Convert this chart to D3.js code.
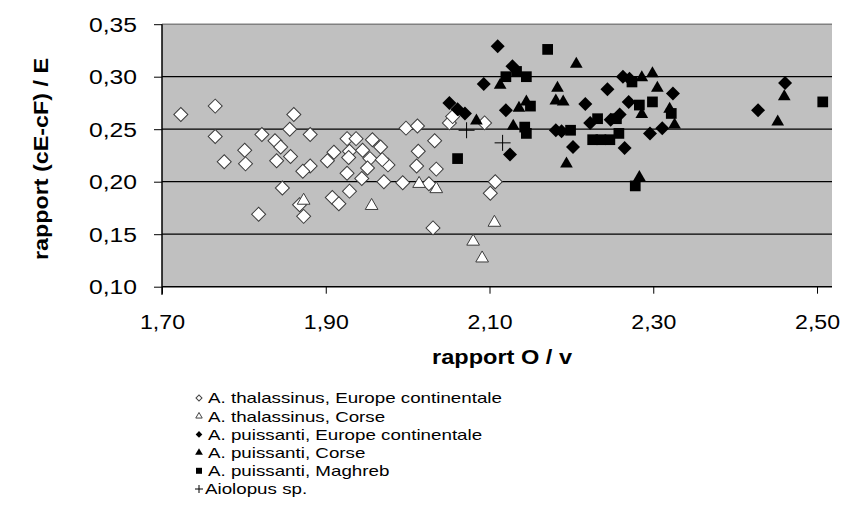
<!DOCTYPE html>
<html><head><meta charset="utf-8">
<script src="https://cdn.jsdelivr.net/npm/d3@7/dist/d3.min.js"></script>
<style>body{margin:0;background:#fff}svg{display:block;font-family:"Liberation Sans",Arial,sans-serif}</style>
</head><body><svg id="c" width="844" height="509"></svg>
<script>
// ---- data (O/v ratio, (cE-cF)/E ratio) ----
const thalEuropeX = [1.723,1.765,1.765,1.776,1.801,1.802,1.822,1.818,1.838,1.845,1.840,1.857,1.847,1.856,1.861,1.881,1.881,1.872,1.868,1.873,1.902,1.910,1.926,1.937,1.929,1.928,1.926,1.945,1.957,1.967,1.954,1.976,1.951,1.944,1.971,1.929,1.908,1.916,1.994,1.998,2.012,2.013,2.011,2.033,2.035,2.026,2.031,2.051,2.055,2.094,2.101,2.107,1.969];
const thalEuropeY = [0.264,0.272,0.243,0.219,0.230,0.217,0.245,0.169,0.239,0.233,0.220,0.224,0.194,0.250,0.264,0.245,0.215,0.210,0.178,0.167,0.220,0.228,0.241,0.241,0.229,0.223,0.208,0.230,0.240,0.233,0.222,0.216,0.213,0.203,0.200,0.191,0.185,0.179,0.199,0.251,0.253,0.229,0.215,0.239,0.212,0.198,0.156,0.256,0.262,0.256,0.189,0.200,0.221];
const thalCorseX = [1.873,1.956,2.014,2.035,2.080,2.091,2.106];
const thalCorseY = [0.183,0.178,0.199,0.194,0.144,0.128,0.162];
const puisEuropeX = [2.051,2.061,2.070,2.093,2.110,2.128,2.120,2.125,2.181,2.188,2.202,2.217,2.223,2.244,2.248,2.259,2.263,2.271,2.270,2.265,2.296,2.311,2.324,2.428,2.461];
const puisEuropeY = [0.275,0.269,0.265,0.293,0.329,0.310,0.268,0.226,0.249,0.248,0.233,0.274,0.256,0.288,0.259,0.264,0.300,0.298,0.276,0.232,0.246,0.251,0.284,0.268,0.294];
const puisCorseX = [2.084,2.113,2.129,2.136,2.145,2.183,2.181,2.190,2.194,2.206,2.286,2.299,2.305,2.286,2.320,2.326,2.283,2.452,2.460];
const puisCorseY = [0.259,0.293,0.254,0.271,0.277,0.290,0.278,0.277,0.218,0.313,0.300,0.304,0.290,0.265,0.270,0.255,0.205,0.258,0.282];
const puisMaghrebX = [2.061,2.120,2.133,2.145,2.150,2.143,2.145,2.171,2.199,2.232,2.255,2.226,2.236,2.247,2.258,2.274,2.283,2.299,2.322,2.278,2.507];
const puisMaghrebY = [0.222,0.300,0.305,0.300,0.272,0.252,0.246,0.326,0.249,0.260,0.260,0.240,0.240,0.240,0.246,0.295,0.273,0.276,0.265,0.196,0.276];
const aiolopusX = [2.072,2.116];
const aiolopusY = [0.249,0.237];
const xTicks = [1.70,1.90,2.10,2.30,2.50];
const yTicks = [0.10,0.15,0.20,0.25,0.30,0.35];
const seriesNames = ["A. thalassinus, Europe continentale","A. thalassinus, Corse","A. puissanti, Europe continentale","A. puissanti, Corse","A. puissanti, Maghreb","Aiolopus sp."];
const xTitle = "rapport O / v";
const yTitle = "rapport (cE-cF) / E";

const svg = d3.select("#c");
const L=162, R=832, T=24.2, B=286.7;
const x = d3.scaleLinear().domain([1.70, 2.5183]).range([L, R]);
const y = d3.scaleLinear().domain([0.10, 0.35]).range([B, T]);
const fmt = d => d3.format(".2f")(d).replace(".", ",");

svg.append("rect").attr("x",L).attr("y",T).attr("width",R-L).attr("height",B-T).attr("fill","#c0c0c0");
// gridlines
svg.append("g").selectAll("line").data(yTicks.filter(v=>v>0.11)).join("line")
  .attr("x1",L).attr("x2",R).attr("y1",d=>y(d)).attr("y2",d=>y(d))
  .attr("stroke",d=>d>0.34?"#808080":"#000").attr("stroke-width",d=>d>0.34?1.5:1.2);

function stretch(sel, sx){ sel.each(function(){ const n=this; const w=n.getComputedTextLength(); n.setAttribute("textLength", w*sx); n.setAttribute("lengthAdjust","spacingAndGlyphs"); }); }

// y axis
const ya = svg.append("g").attr("transform",`translate(${L},0)`).call(d3.axisLeft(y).tickValues(yTicks).tickSize(8).tickPadding(7).tickFormat(fmt));
ya.select(".domain").attr("stroke","#000").attr("stroke-width",1.5).attr("d",`M0,${T}V${B+8}`);
ya.selectAll(".tick line").attr("stroke","#000");
ya.selectAll("text").attr("font-size",20).attr("fill","#000").attr("font-family","Liberation Sans, Arial").attr("dy","0.36em").attr("x",-49);
ya.selectAll("text").each(function(){ this.setAttribute("textLength",48); this.setAttribute("lengthAdjust","spacingAndGlyphs"); });
ya.selectAll("text").attr("text-anchor","middle");

// x axis
const xa = svg.append("g").attr("transform",`translate(0,${B})`).call(d3.axisBottom(x).tickValues(xTicks).tickSize(7).tickPadding(26).tickFormat(fmt));
xa.select(".domain").attr("stroke","#000").attr("stroke-width",1.5).attr("d",`M${L},0H${R}`);
xa.selectAll(".tick line").attr("stroke","#000");
xa.selectAll("text").attr("font-size",20).attr("fill","#000").attr("font-family","Liberation Sans, Arial").attr("dy","0.45em");
xa.selectAll("text").each(function(){ this.setAttribute("textLength",45); this.setAttribute("lengthAdjust","spacingAndGlyphs"); });

// titles
svg.append("text").attr("x",502).attr("y",364).attr("text-anchor","middle").attr("font-weight","bold").attr("font-size",20)
  .attr("textLength",140).attr("lengthAdjust","spacingAndGlyphs").text(xTitle);
svg.append("text").attr("transform","translate(48,159) rotate(-90)").attr("text-anchor","middle").attr("font-weight","bold").attr("font-size",21)
  .attr("textLength",202).attr("lengthAdjust","spacingAndGlyphs").text(yTitle);

// markers
const diamond = d3.symbol().type(d3.symbolSquare).size(98)();
const tri = d3.symbol().type(d3.symbolTriangle).size(70)();
const sq = d3.symbol().type(d3.symbolSquare).size(115)();
function pts(X,Y){ return X.map((v,i)=>[v,Y[i]]); }
const g = svg.append("g");
g.selectAll(".wd").data(pts(thalEuropeX,thalEuropeY)).join("path").attr("d",diamond)
  .attr("transform",d=>`translate(${x(d[0])},${y(d[1])}) rotate(45)`).attr("fill","#fff").attr("stroke","#3c3c3c").attr("stroke-width",1);
g.selectAll(".wt").data(pts(thalCorseX,thalCorseY)).join("path").attr("d",tri)
  .attr("transform",d=>`translate(${x(d[0])},${y(d[1])+1})`).attr("fill","#fff").attr("stroke","#3c3c3c").attr("stroke-width",1);
g.selectAll(".bd").data(pts(puisEuropeX,puisEuropeY)).join("path").attr("d",diamond)
  .attr("transform",d=>`translate(${x(d[0])},${y(d[1])}) rotate(45)`).attr("fill","#000");
g.selectAll(".bt").data(pts(puisCorseX,puisCorseY)).join("path").attr("d",tri)
  .attr("transform",d=>`translate(${x(d[0])},${y(d[1])+1})`).attr("fill","#000");
g.selectAll(".bs").data(pts(puisMaghrebX,puisMaghrebY)).join("path").attr("d",sq)
  .attr("transform",d=>`translate(${x(d[0])},${y(d[1])})`).attr("fill","#000");
g.selectAll(".cr").data(pts(aiolopusX,aiolopusY)).join("path")
  .attr("d",d=>`M${x(d[0])-8},${y(d[1])}H${x(d[0])+8}M${x(d[0])},${y(d[1])-8}V${y(d[1])+8}`)
  .attr("stroke","#000").attr("stroke-width",1).attr("fill","none");

// legend
const lg = svg.append("g");
const ly0 = 398, ldy = 18.2;
const lsym = [
  {d:d3.symbol().type(d3.symbolSquare).size(18)(), rot:45, fill:"#fff", stroke:"#444"},
  {d:d3.symbol().type(d3.symbolTriangle).size(18)(), rot:0, fill:"#fff", stroke:"#444"},
  {d:d3.symbol().type(d3.symbolSquare).size(22)(), rot:45, fill:"#000", stroke:"none"},
  {d:d3.symbol().type(d3.symbolTriangle).size(26)(), rot:0, fill:"#000", stroke:"none"},
  {d:d3.symbol().type(d3.symbolSquare).size(36)(), rot:0, fill:"#000", stroke:"none"},
  {d:"M-4,0H4M0,-4V4", rot:0, fill:"none", stroke:"#000"}
];
seriesNames.forEach((name,i)=>{
  const yy = ly0 + i*ldy;
  const s = lsym[i];
  lg.append("path").attr("d",s.d).attr("transform",`translate(${199},${yy}) rotate(${s.rot})`)
    .attr("fill",s.fill).attr("stroke",s.stroke).attr("stroke-width",1);
  const t = lg.append("text").attr("x", i===5?205:208).attr("y",yy).attr("dy","0.36em").attr("font-size",15).attr("fill","#000").text(name);
  stretch(t, 1.25);
});
</script></body></html>
